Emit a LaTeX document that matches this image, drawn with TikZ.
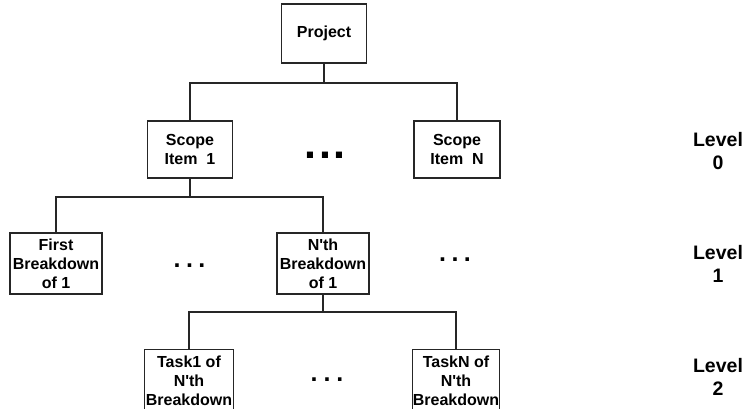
\documentclass[tikz,border=0pt]{standalone}
\usepackage{fontspec}
\setmainfont{Liberation Sans}
\begin{document}
\begin{tikzpicture}[x=1pt,y=-1pt,
  box/.style={draw=black!85, line width=1.1pt, fill=white, align=center,
    inner sep=0pt, font=\fontsize{16}{19}\selectfont\bfseries},
  conn/.style={draw=black!85, line width=1.1pt},
  lvl/.style={align=center, inner sep=0pt, font=\fontsize{19.5}{23}\selectfont\bfseries},
  bigdots/.style={inner sep=0pt, font=\fontsize{43}{43}\selectfont\bfseries},
  smalldots/.style={inner sep=0pt, font=\fontsize{25}{25}\selectfont\bfseries}]
\useasboundingbox (0,0) rectangle (751,408);
\clip (0,0) rectangle (751,408);

% project root
\node[box, minimum width=85pt, minimum height=59pt] (proj) at (324,33.5) {Project};

% level 0: scope items
\node[box, minimum width=85pt, minimum height=57pt] (s1) at (190,149.5) {Scope\\Item\ \ 1};
\node[box, minimum width=86pt, minimum height=57pt] (sn) at (457,149.5) {Scope\\Item\ \ N};
\node[bigdots] (d0) at (325,155) {.\kern3pt.\kern3pt.};

% level 1: breakdowns of scope item 1
\node[box, minimum width=92pt, minimum height=61pt] (b1) at (56,263.5) {First\\Breakdown\\of 1};
\node[box, minimum width=92pt, minimum height=61pt] (bn) at (323,263.5) {N\textquotesingle th\\Breakdown\\of 1};
\node[smalldots] (d1a) at (189.5,265.5) {.\kern5.5pt.\kern5.5pt.};
\node[smalldots] (d1b) at (455,259.5) {.\kern5.5pt.\kern5.5pt.};

% level 2: tasks of the n'th breakdown (boxes run past the lower edge)
\node[box, minimum width=89pt, minimum height=62pt, anchor=north] (t1) at (189,349) {Task1 of\\N\textquotesingle th\\Breakdown};
\node[box, minimum width=87pt, minimum height=62pt, anchor=north] (tn) at (456,349) {TaskN of\\N\textquotesingle th\\Breakdown};
\node[smalldots] (d2) at (327,380) {.\kern6pt.\kern6pt.};

% level labels
\node[lvl] (l0) at (718,151) {Level\\0};
\node[lvl] (l1) at (718,263.5) {Level\\1};
\node[lvl] (l2) at (718,377) {Level\\2};

% connectors
\coordinate (bus1) at (324,83);
\coordinate (bus2) at (190,197);
\coordinate (bus3) at (323,312);
\draw[conn] (proj.south) -- (bus1);
\draw[conn] (s1.north) |- (bus1) -| (sn.north);
\draw[conn] (s1.south) -- (bus2);
\draw[conn] (b1.north) |- (bus2) -| (bn.north);
\draw[conn] (bn.south) -- (bus3);
\draw[conn] (t1.north) |- (bus3) -| (tn.north);
\end{tikzpicture}
\end{document}
